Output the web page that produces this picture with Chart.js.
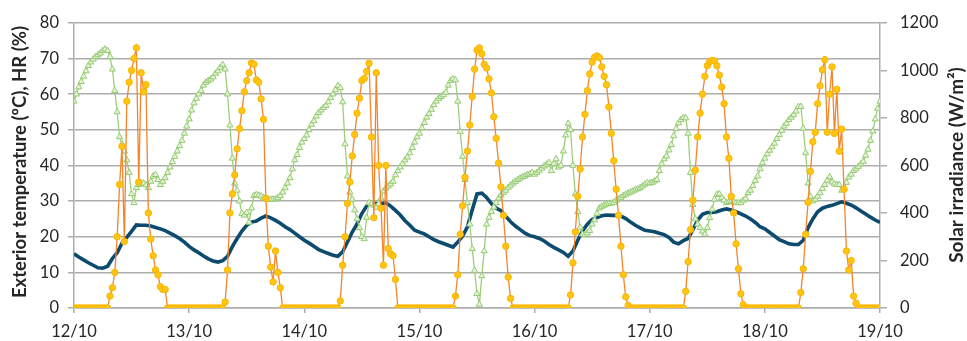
<!DOCTYPE html>
<html lang="en">
<head>
    <meta charset="UTF-8">
    <title>Exterior temperature, HR and solar irradiance</title>
    <script src="https://cdn.jsdelivr.net/npm/chart.js"></script>
    <style>
        html, body { margin: 0; padding: 0; background: #fff; }
        #wrap { width: 967px; height: 341px; position: relative; }
    </style>
</head>
<body>
    <div id="wrap"><canvas id="climateChart"></canvas></div>

    <script>
        // Day tick labels (x axis, one every 24 h)
        const dayLabels = ['12/10', '13/10', '14/10', '15/10', '16/10', '17/10', '18/10', '19/10'];

        // Exterior temperature (ºC), hourly
        const tempValues = [
            15.2, 14.3, 13.5, 12.7, 12.0, 11.3, 11.2, 11.7, 13.9, 15.5, 18.2, 19.8, 21.5, 23.3, 23.2, 23.2, 23.0, 22.6, 22.2, 21.7, 21.0, 20.3, 19.5, 18.5,
            17.3, 16.3, 15.5, 14.6, 13.8, 13.2, 12.9, 13.3, 14.5, 17.2, 19.5, 21.6, 23.2, 24.1, 24.4, 25.2, 25.8, 25.3, 24.6, 23.8, 22.8, 22.0, 21.0, 20.0,
            19.0, 18.2, 17.3, 16.4, 15.8, 15.3, 14.8, 14.5, 15.8, 18.5, 21.3, 23.6, 26.5, 28.6, 29.4, 29.3, 29.3, 29.5, 28.6, 27.4, 26.1, 24.5, 23.2, 21.8,
            21.3, 20.8, 20.0, 19.2, 18.6, 18.1, 17.6, 17.1, 18.5, 20.2, 22.8, 27.5, 32.0, 32.2, 31.0, 29.3, 28.0, 27.3, 25.7, 24.2, 23.0, 22.0, 21.0, 20.3,
            20.0, 19.5, 18.8, 17.8, 17.0, 16.3, 15.6, 14.5, 16.0, 19.0, 21.6, 23.5, 24.8, 25.4, 25.9, 26.1, 26.0, 26.0, 25.8, 25.1, 24.1, 23.2, 22.5, 21.8,
            21.6, 21.4, 21.0, 20.6, 19.8, 18.5, 18.0, 18.9, 19.5, 22.0, 24.7, 26.3, 26.8, 26.8, 27.0, 27.5, 27.8, 27.5, 27.0, 26.4, 25.8, 25.0, 24.0, 22.8,
            22.2, 21.2, 20.2, 19.2, 18.6, 18.0, 17.8, 17.8, 19.0, 22.5, 25.0, 27.0, 28.0, 28.5, 28.8, 29.3, 29.8, 29.4, 28.9, 28.1, 27.2, 26.4, 25.5, 24.7,
            24.0
        ];

        // HR (%), every 30 min
        const hrValues = [
            58, 60, 62, 63.5, 65, 66.5, 68, 69, 69.8, 70.5, 71, 71.5, 72.2, 72.6, 72.2, 70.5, 67, 61, 55, 48, 46, 44, 41.5, 38,
            32, 29.5, 33.7, 34.6, 35, 35, 34.5, 33.7, 35.5, 37, 37.4, 36, 34.6, 35.5, 36.5, 38, 39.5, 41, 42.5, 44, 45.5, 47, 49, 51,
            53, 55.5, 57.5, 58.8, 60, 61, 62.5, 63.3, 63.8, 64.2, 64.8, 65.8, 66.5, 67.5, 68.3, 67, 60, 51.3, 42, 35, 33, 30, 26.5, 26,
            26.8, 24, 28, 31.5, 31.8, 31.6, 31.4, 31, 30.8, 30.5, 30.5, 30.5, 30.6, 30.9, 31.5, 32.5, 33.7, 35, 36.5, 39, 41.5, 43, 45, 46.5,
            47.5, 48.5, 50, 51.5, 52.5, 53.8, 54.8, 55.5, 56.2, 56.8, 57.8, 59, 60, 61.2, 62.4, 61.8, 57.8, 46, 37, 32.5, 30.5, 27.5, 25, 22.5,
            20, 19.4, 25.4, 29.5, 29.3, 28.8, 28.2, 29.2, 30.8, 32.8, 33.6, 34.2, 34.8, 35.5, 37.3, 38.5, 39.5, 40.5, 41.5, 42.3, 43.5, 45, 46.5, 48,
            49, 50.5, 52, 53.5, 54.5, 55.7, 57, 58, 58.8, 59.3, 59.8, 60.5, 62.5, 63.8, 64.3, 64, 58, 49.5, 42.5, 36, 29.5, 23.5, 16.6, 10.5,
            4, 1, 9, 16, 23.5, 25.4, 27, 28.3, 29.5, 30.8, 31.7, 32.4, 33, 33.8, 34.4, 35, 35.5, 36, 36.4, 36.8, 37, 37.4, 37.6, 38,
            37.5, 38, 38.6, 39.2, 39.8, 40.3, 40.8, 38.5, 40.5, 41.8, 39.5, 40, 44, 48.5, 51.8, 50, 40, 32, 27, 22.6, 20.7, 20.5, 21, 21.7,
            23.5, 24.7, 26.5, 28, 28.5, 28.8, 29.1, 29.3, 29.4, 29.6, 30.2, 30.6, 31, 31.5, 31.9, 32.2, 32.5, 32.8, 33.1, 33.4, 33.7, 34.2, 34.7, 35.1,
            35, 35.2, 35.6, 36, 38.5, 40.5, 41.8, 42.6, 44.3, 45.8, 48.3, 50.3, 51.9, 52.8, 53.4, 53.3, 49, 38, 29, 25, 23.5, 22.5, 21.5, 20.7,
            22.5, 25.3, 27.7, 30.5, 31.8, 32, 30.9, 30.2, 29.5, 29.8, 30, 29.7, 29.5, 29.5, 29.5, 30.2, 30.7, 32.3, 33, 34.3, 35.7, 37, 39, 40.7,
            42, 43.2, 44.2, 45.2, 46.2, 47.5, 48.6, 49.8, 51, 51.8, 52.8, 53.5, 54.2, 55.2, 56.5, 56.5, 50.4, 43.5, 35, 31.3, 30, 30.5, 31.3, 32.3,
            33.5, 34.6, 35.8, 36.8, 35.3, 34.8, 34.6, 34.6, 33, 33.5, 35.2, 36.7, 37.5, 38.5, 39, 39.7, 40.4, 41.1, 42.8, 44.5, 47, 49.6, 53, 56,
            58
        ];

        // Solar irradiance (W/m2), every 30 min
        const solarValues = [
            0, 0, 0, 0, 0, 0, 0, 0, 0, 0, 0, 0, 0, 0,
            0, 50, 85, 150, 300, 520, 680, 280, 870, 950, 1000, 1050, 1095, 530, 990, 910, 940, 400, 290, 220, 160, 140, 90, 78, 78, 0,
            0, 0, 0, 0, 0, 0, 0, 0,
            0, 0, 0, 0, 0, 0, 0, 0, 0, 0, 0, 0, 0, 0,
            0, 25, 160, 400, 480, 560, 670, 755, 830, 910, 957, 990, 1031, 1026, 960, 950, 880, 794, 460, 260, 172, 110, 240, 150, 85, 0,
            0, 0, 0, 0, 0, 0, 0, 0,
            0, 0, 0, 0, 0, 0, 0, 0, 0, 0, 0, 0, 0, 0,
            0, 30, 180, 300, 440, 530, 640, 730, 820, 883, 957, 966, 996, 1030, 720, 380, 990, 600, 420, 180, 600, 250, 228, 220, 120, 0,
            0, 0, 0, 0, 0, 0, 0, 0,
            0, 0, 0, 0, 0, 0, 0, 0, 0, 0, 0, 0, 0, 0,
            0, 50, 140, 310, 430, 550, 660, 770, 890, 1005, 1085, 1095, 1070, 1025, 1010, 964, 905, 805, 714, 610, 510, 390, 260, 130, 40, 0,
            0, 0, 0, 0, 0, 0, 0, 0,
            0, 0, 0, 0, 0, 0, 0, 0, 0, 0, 0, 0, 0, 0,
            0, 55, 190, 320, 470, 585, 720, 815, 915, 985, 1035, 1055, 1061, 1054, 1015, 975, 940, 846, 735, 620, 500, 390, 260, 140, 47, 11,
            0, 0, 0, 0, 0, 0, 0, 0,
            0, 0, 0, 0, 0, 0, 0, 0, 0, 0, 0, 0, 0, 0,
            0, 70, 195, 330, 454, 580, 720, 820, 900, 975, 1020, 1037, 1042, 1040, 1020, 980, 930, 860, 720, 630, 470, 400, 270, 165, 60, 14,
            0, 0, 0, 0, 0, 0, 0, 0,
            0, 0, 0, 0, 0, 0, 0, 0, 0, 0, 0, 0, 0, 0,
            0, 65, 165, 310, 445, 575, 700, 740, 860, 935, 1003, 1045, 740, 900, 1015, 735, 920, 660, 753, 500, 240, 160, 200, 50, 20, 0,
            0, 0, 0, 0, 0, 0, 0, 0,
            0
        ];

        const leftTitle = 'Exterior temperature (ºC), HR (%)';
        const rightTitle = 'Solar irradiance (W/m²)';

        const fontFamily = 'Lato, "Open Sans", sans-serif';
        const gridColor = '#adadad';

        // Both axis titles read bottom-to-top, so draw them ourselves
        const axisTitles = {
            id: 'axisTitles',
            afterDraw(chart) {
                const ctx = chart.ctx;
                ctx.save();
                ctx.font = 'bold 18.5px ' + fontFamily;
                ctx.fillStyle = '#262626';
                ctx.textAlign = 'center';
                ctx.textBaseline = 'middle';
                ctx.translate(20, 162);
                ctx.rotate(-Math.PI / 2);
                ctx.fillText(leftTitle, 0, 0);
                ctx.restore();

                ctx.save();
                ctx.font = 'bold 19px ' + fontFamily;
                ctx.fillStyle = '#262626';
                ctx.textAlign = 'center';
                ctx.textBaseline = 'middle';
                ctx.translate(957, 165);
                ctx.rotate(-Math.PI / 2);
                ctx.fillText(rightTitle, 0, 0);
                ctx.restore();
            }
        };

        const ctx = document.getElementById('climateChart').getContext('2d');
        new Chart(ctx, {
            type: 'line',
            data: {
                datasets: [
                    {
                        label: 'Solar irradiance',
                        yAxisID: 'y1',
                        data: solarValues.map((v, i) => ({ x: i / 2, y: v })),
                        borderColor: '#f5842a',
                        borderWidth: 1.3,
                        pointStyle: 'circle',
                        pointRadius: 3.2,
                        pointBorderWidth: 1,
                        pointBackgroundColor: '#ffc512',
                        pointBorderColor: '#f7b500',
                        tension: 0,
                        order: 0
                    },
                    {
                        label: 'HR',
                        yAxisID: 'y',
                        data: hrValues.map((v, i) => ({ x: i / 2, y: v })),
                        borderColor: '#9dcf7b',
                        borderWidth: 1.3,
                        pointStyle: 'triangle',
                        pointRadius: 3.6,
                        pointBorderWidth: 1,
                        pointBackgroundColor: '#e6f3dc',
                        pointBorderColor: '#95cb70',
                        tension: 0,
                        order: 1
                    },
                    {
                        label: 'Exterior temperature',
                        yAxisID: 'y',
                        data: tempValues.map((v, i) => ({ x: i, y: v })),
                        borderColor: '#0c4a6e',
                        borderWidth: 3.6,
                        pointRadius: 0,
                        tension: 0,
                        order: 2
                    }
                ]
            },
            options: {
                responsive: true,
                maintainAspectRatio: false,
                animation: false,
                layout: { padding: { top: 20, left: 0, right: 0, bottom: 0 } },
                plugins: {
                    legend: { display: false },
                    tooltip: { enabled: false }
                },
                scales: {
                    x: {
                        type: 'linear',
                        min: 0,
                        max: 168,
                        afterFit: (s) => { s.height = 33; },
                        ticks: {
                            stepSize: 24,
                            autoSkip: false,
                            maxRotation: 0,
                            padding: 9,
                            color: '#262626',
                            font: { family: fontFamily, size: 16.5 },
                            callback: (v) => dayLabels[v / 24]
                        },
                        grid: { drawOnChartArea: false, drawTicks: true, tickLength: 5, color: gridColor, lineWidth: 1.5 },
                        border: { color: gridColor, width: 1.5 }
                    },
                    y: {
                        position: 'left',
                        min: 0,
                        max: 80,
                        afterFit: (s) => { s.width = 74; },
                        ticks: {
                            stepSize: 10,
                            padding: 9,
                            color: '#262626',
                            font: { family: fontFamily, size: 16.5 }
                        },
                        grid: { color: gridColor, lineWidth: 1.5, tickLength: 6 },
                        border: { color: gridColor, width: 1.5 }
                    },
                    y1: {
                        position: 'right',
                        min: 0,
                        max: 1200,
                        afterFit: (s) => { s.width = 87; },
                        ticks: {
                            stepSize: 200,
                            padding: 13,
                            color: '#262626',
                            font: { family: fontFamily, size: 16.5 },
                            callback: (v) => String(v)
                        },
                        grid: { drawOnChartArea: false, color: gridColor, lineWidth: 1.5, tickLength: 7 },
                        border: { color: gridColor, width: 1.5 }
                    }
                }
            },
            plugins: [axisTitles]
        });
    </script>
</body>
</html>
